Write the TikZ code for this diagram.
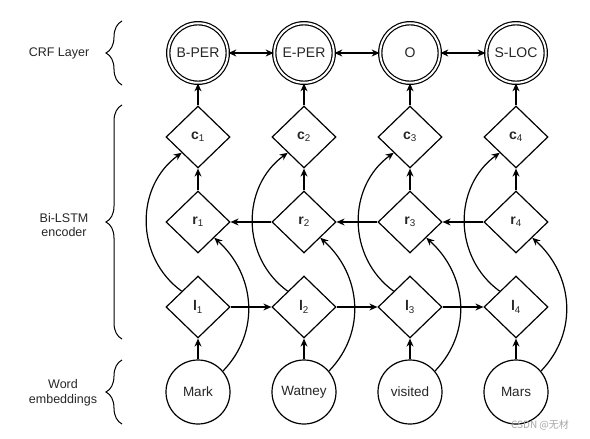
\documentclass[tikz,border=0pt]{standalone}
\usepackage{fontspec}
\setmainfont{Liberation Sans}
\newfontfamily\cjkfont{Noto Sans CJK SC}
\usetikzlibrary{shapes.geometric,arrows.meta,decorations.pathreplacing}
\begin{document}
\begin{tikzpicture}[x=1pt,y=1pt,line width=1.2pt,
  >={Stealth[length=8pt,width=7pt]},
  crf/.style={circle,draw,double,double distance=2pt,line width=1.2pt,minimum size=59.5pt,inner sep=0pt,font=\fontsize{14}{16}\selectfont,text=black!85},
  cell/.style={diamond,draw,aspect=1,minimum width=64pt,minimum height=62pt,inner sep=0pt,font=\fontsize{14}{16}\selectfont,text=black!85},
  word/.style={circle,draw,minimum size=64pt,inner sep=0pt,font=\fontsize{13.5}{16}\selectfont,text=black!85},
  lab/.style={align=center,font=\fontsize{12.5}{14.5}\selectfont,text=black!85},
  brc/.style={decorate,decoration={brace,amplitude=16pt},line width=1pt},
  wm/.style={font=\fontsize{10}{12}\selectfont\cjkfont,text=black!35}]
\useasboundingbox (0,0) rectangle (590,-439);
\fill[white] (0,0) rectangle (590,-439);
% CRF layer
\node[crf] (t1) at (198,-53) {B-PER};
\node[crf] (t2) at (304,-53) {E-PER};
\node[crf] (t3) at (410,-53) {O};
\node[crf] (t4) at (516,-53) {S-LOC};
% cells
\foreach \i/\x in {1/198,2/304,3/410,4/516}{
  \node[cell] (c\i) at (\x,-137) {\textbf{c}\textsubscript{\i}};
  \node[cell] (r\i) at (\x,-222) {\textbf{r}\textsubscript{\i}};
  \node[cell] (l\i) at (\x,-307) {\textbf{l}\textsubscript{\i}};
}
% words
\node[word] (w1) at (198,-392) {Mark};
\node[word] (w2) at (304,-392) {Watney};
\node[word] (w3) at (410,-392) {visited};
\node[word] (w4) at (516,-392) {Mars};
% connectors
\foreach \i in {1,2,3,4}{
  \draw[->] (w\i) -- (l\i);
  \draw[->] (r\i) -- (c\i);
  \draw[->] (c\i) -- (t\i);
  \draw[->] (w\i.40) to[out=46,in=-42,looseness=1.05] (r\i.south east);
  \draw[->] (l\i.north west) to[out=144,in=-144,looseness=1.07] (c\i.south west);
}
\foreach \a/\b in {1/2,2/3,3/4}{
  \draw[->] (l\a) -- (l\b);
  \draw[->] (r\b) -- (r\a);
  \draw[<->] (t\a) -- (t\b);
}
% braces and labels
\draw[brc] (122,-85) -- (122,-21);
\draw[brc] (122,-339) -- (122,-105);
\draw[brc] (122,-424) -- (122,-360);
\node[lab] (L1) at (59,-53) {CRF Layer};
\node[lab] (L2) at (64,-225) {Bi-LSTM\\encoder};
\node[lab] (L3) at (63,-393) {Word\\embeddings};
\node[wm] (wm) at (540,-425) {CSDN @无材};
\end{tikzpicture}
\end{document}
